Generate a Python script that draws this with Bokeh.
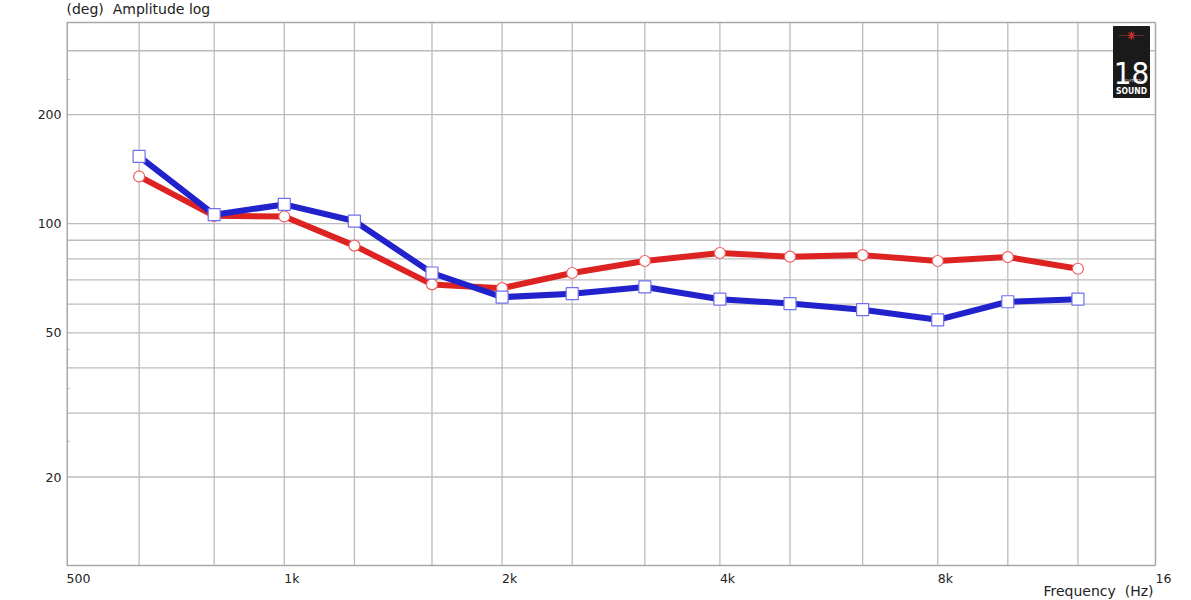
import math
from bokeh.plotting import figure
from bokeh.models import FixedTicker, Range1d
from bokeh.embed import file_html
from bokeh.resources import INLINE
from bokeh.core.properties import value

# ---------------- data ----------------
freq = [630, 800, 1000, 1250, 1600, 2000, 2500, 3150, 4000, 5000, 6300, 8000, 10000, 12500]
blue_vals = [153.4, 105.9, 113.0, 101.7, 73.1, 62.7, 64.1, 66.9, 61.9, 60.2, 57.9, 54.3, 60.9, 61.9]
red_vals = [135.0, 105.1, 104.7, 87.0, 68.0, 66.4, 73.1, 78.9, 83.0, 81.1, 81.9, 78.9, 80.9, 75.1]

x_ticks = [500, 1000, 2000, 4000, 8000, 16000]
x_tick_labels = ["500", "1k", "2k", "4k", "8k", "16"]
x_grid = [630, 800, 1000, 1250, 1600, 2000, 2500, 3150, 4000, 5000, 6300, 8000, 10000, 12500]
y_ticks = [20, 50, 100, 200]
y_tick_labels = ["20", "50", "100", "200"]
y_grid = [20, 30, 40, 50, 60, 70, 80, 90, 100, 200, 300]
y_minor = [25, 35, 45, 250]

y_title = "(deg)\u00a0 Amplitude log"
x_title = "Frequency\u00a0 (Hz)"

FONT = "'DejaVu Sans', Verdana, sans-serif"
FS = 12.5     # tick labels
TFS = 14      # titles
GRID = "#bcbcbc"
BOX = "#a8a8a8"
TXT = "#222222"

W, H = 1191, 600
# plot box in page pixels; the Bokeh frame covers everything right of the y labels
BOX_L, BOX_R, BOX_T, BOX_B = 66, 1155, 22, 565
X0, X1 = 500, 16000
Y0, Y1 = 11.4, 359

px_per_oct = (BOX_R - BOX_L) / math.log2(X1 / X0)
px_per_dec = (BOX_B - BOX_T) / math.log10(Y1 / Y0)


def xv(px):
    return X0 * 2 ** ((px - BOX_L) / px_per_oct)


def yv(py):
    return Y1 * 10 ** ((BOX_T - py) / px_per_dec)


p = figure(width=W, height=H, x_axis_type="log", y_axis_type="log",
           output_backend="svg", toolbar_location=None,
           min_border_left=BOX_L, min_border_right=0, min_border_top=0, min_border_bottom=0)
p.x_range = Range1d(X0, xv(W))
p.y_range = Range1d(yv(H), yv(0))

p.background_fill_color = "white"
p.border_fill_color = "white"
p.outline_line_color = None
p.xaxis.visible = False
p.xgrid.visible = False
p.ygrid.visible = False

# grid lines, limited to the plot box
p.segment(x0=[X0] * len(y_grid), x1=[X1] * len(y_grid), y0=y_grid, y1=y_grid,
          line_color=GRID, line_width=1.3)
p.segment(x0=x_grid, x1=x_grid, y0=[Y0] * len(x_grid), y1=[Y1] * len(x_grid),
          line_color=GRID, line_width=1.3)

# plot box
p.line([X0, X0], [Y0, Y1], line_color=BOX, line_width=3)   # on the frame edge
p.line([X0, X1], [Y1, Y1], line_color=BOX, line_width=1.5)
p.line([X0, X1], [Y0, Y0], line_color=BOX, line_width=1.5)
p.line([X1, X1], [Y0, Y1], line_color=BOX, line_width=1.5)

# y axis
p.yaxis.ticker = FixedTicker(ticks=y_ticks, minor_ticks=y_minor)
p.yaxis.major_label_overrides = {t: l for t, l in zip(y_ticks, y_tick_labels)}
p.yaxis.axis_line_color = None
p.yaxis.major_tick_line_color = None
p.yaxis.major_tick_out = 0
p.yaxis.minor_tick_in = 3
p.yaxis.minor_tick_out = 0
p.yaxis.minor_tick_line_color = "#b0b0b0"
p.yaxis.major_label_standoff = 5
p.yaxis.major_label_text_font = FONT
p.yaxis.major_label_text_font_size = f"{FS}px"
p.yaxis.major_label_text_color = TXT

# x tick labels (left-aligned at each tick, as in the reference)
p.text(x=x_ticks, y=[yv(577.5)] * len(x_ticks), text=x_tick_labels,
       text_align="left", text_baseline="alphabetic", text_color=TXT,
       text_font=value(FONT), text_font_size=f"{FS}px")

# axis titles
p.text(x=[X0], y=[yv(8.5)], text=[y_title], text_align="left", text_baseline="alphabetic",
       text_color=TXT, text_font=value(FONT), text_font_size=f"{TFS}px")
p.text(x=[xv(BOX_R - 2)], y=[yv(590.5)], text=[x_title], text_align="right",
       text_baseline="alphabetic", text_color=TXT, text_font=value(FONT),
       text_font_size=f"{TFS}px")

# series
p.line(freq, red_vals, line_color="#dd2222", line_width=6, line_join="round")
p.line(freq, blue_vals, line_color="#2222cc", line_width=6, line_join="round")
p.scatter(freq, red_vals, marker="circle", size=11, fill_color="white",
          line_color="#f06060", line_width=1.2)
p.scatter(freq, blue_vals, marker="square", size=12, fill_color="white",
          line_color="#7070ee", line_width=1.2)

# logo (decoration)
LX = xv(1131)
p.quad(left=[xv(1113)], right=[xv(1149)], top=[yv(26)], bottom=[yv(97)],
       fill_color="#1a1a1a", line_color="#1a1a1a")
p.scatter([LX], [yv(35)], marker="asterisk", size=8, line_color="#e03030", line_width=1.2)
p.line([xv(1118), xv(1144)], [yv(35), yv(35)], line_color="#903030", line_width=0.7)
p.text([LX], [yv(72)], text=["18"], text_align="center", text_baseline="alphabetic",
       text_color="white", text_font=value("'DejaVu Sans Condensed', sans-serif"),
       text_font_size="31px")
p.text([LX], [yv(80)], text=["EIGHTEEN"], text_align="center", text_baseline="alphabetic",
       text_color="#dddddd", text_font=value("'DejaVu Sans', sans-serif"), text_font_size="4px")
p.text([LX], [yv(90.5)], text=["SOUND"], text_align="center", text_baseline="alphabetic",
       text_color="white", text_font=value("'DejaVu Sans Condensed', sans-serif"),
       text_font_style="bold", text_font_size="8.5px")

open("out.html", "w").write(file_html(p, INLINE))
